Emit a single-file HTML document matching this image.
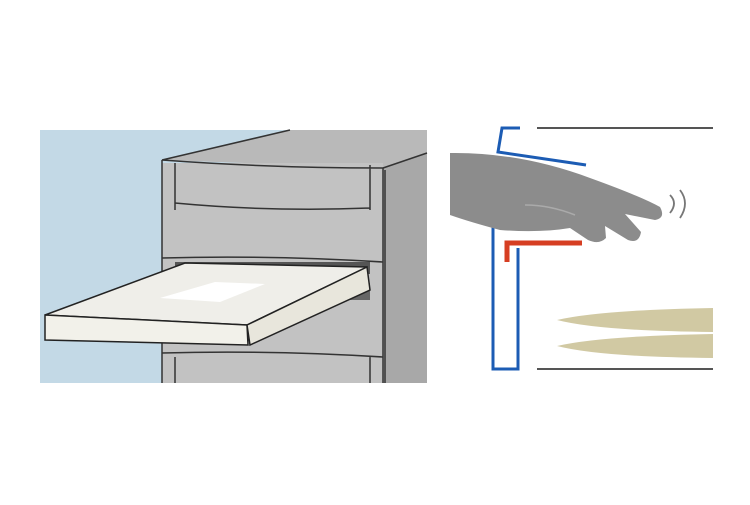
<!DOCTYPE html>
<html><head><style>body{margin:0;background:#fff}</style></head><body>
<svg width="750" height="500" viewBox="0 0 750 500" xmlns="http://www.w3.org/2000/svg">
<rect x="40" y="130" width="387" height="253" fill="#c3d9e6"/>
<!-- cabinet -->
<polygon points="162,160 290,130 427,130 427,153 383,168" fill="#b9b9b9"/>
<polygon points="383,168 427,153 427,383 383,383" fill="#a8a8a8"/>
<rect x="162" y="163" width="221" height="220" fill="#c2c2c2"/>
<path d="M162,160 L290,130 M383,168 L427,153 M162,160 Q270,168 383,168 M162,160 V383 M383,168 V383 M175,163 V210 M370,165 V210 M175,203 Q270,212 370,208 M162,258 Q270,255 383,262 M385,170 V383" stroke="#333" stroke-width="1.5" fill="none"/>
<path d="M162,353 Q270,350 383,357 M175,357 V383 M370,357 V383" stroke="#333" stroke-width="1.5" fill="none"/>
<rect x="175" y="262" width="195" height="12" fill="#555"/>
<polygon points="330,290 370,283 370,300 330,300" fill="#666"/>
<!-- tray -->
<polygon points="45,315 185,263 367,267 247,325" fill="#efeee9" stroke="#222" stroke-width="1.5"/>
<polygon points="160,298 215,282 265,284 220,302" fill="#fff"/>
<polygon points="45,315 247,325 248,345 45,340" fill="#f2f1ea" stroke="#222" stroke-width="1.5"/>
<polygon points="247,325 367,267 370,290 250,345" fill="#e8e6dc" stroke="#222" stroke-width="1.5"/>
<!-- right panel -->
<path d="M537,128 H713 M537,369 H713" stroke="#555" stroke-width="2"/>
<path d="M557,320 Q600,310 713,308 V332 Q600,331 557,320Z" fill="#d1c9a3"/>
<path d="M557,346 Q600,336 713,334 V358 Q600,357 557,346Z" fill="#d1c9a3"/>
<path d="M520,128 H502 L498,152 L586,165" stroke="#1c5cb4" stroke-width="3" fill="none"/>
<path d="M493,225 V369 H518 V248" stroke="#1c5cb4" stroke-width="3" fill="none"/>
<path d="M507,262 V243 H582" stroke="#d63e22" stroke-width="5" fill="none"/>
<path d="M450,153 Q520,152 590,178 Q640,196 660,207 Q666,218 655,220 L625,214 L641,232 Q639,244 628,240 L605,226 L606,238 Q599,245 588,240 L570,228 Q540,233 500,230 Q470,222 450,215 Z" fill="#8c8c8c"/>
<path d="M525,205 Q550,205 575,215" stroke="#aaa" stroke-width="1.5" fill="none"/>
<path d="M670,195 Q678,203 670,213 M680,190 Q690,203 680,218" stroke="#777" stroke-width="1.8" fill="none"/>
</svg>
</body></html>
